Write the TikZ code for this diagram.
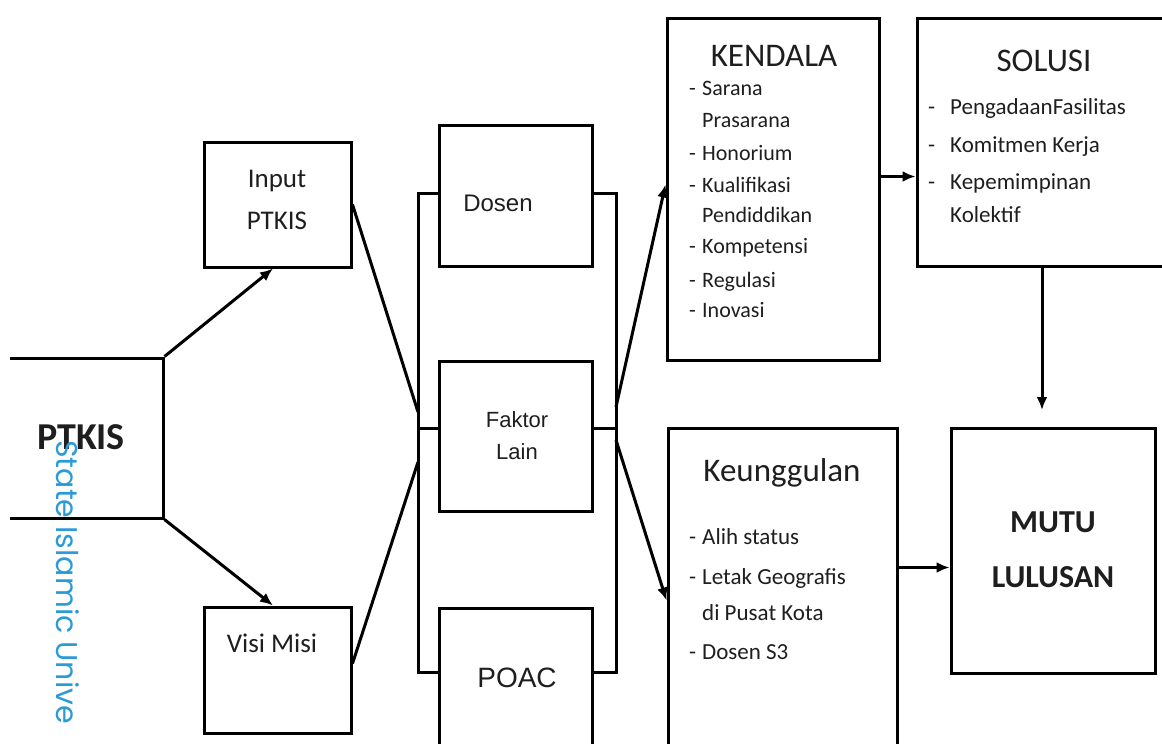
\documentclass[tikz,border=0pt]{standalone}
\usepackage{fontspec}
\setmainfont{Carlito}
\newfontfamily\arialf{Liberation Sans}
\newfontfamily\wmfont{Poppins}
\usetikzlibrary{arrows.meta,calc}
\definecolor{ink}{HTML}{1E1E1E}
\definecolor{wmblue}{HTML}{2A9AD8}
\tikzset{
  box/.style={draw=black, line width=3pt, inner sep=0pt},
  ln/.style={draw=black, line width=3pt},
  arr/.style={draw=black, line width=3pt, -{Latex[length=13pt,width=11pt]}},
  txt/.style={inner sep=0pt, text height=0.68em, text depth=0pt, text=ink},
  fs/.style={font=\fontsize{#1}{#1}\selectfont, yshift={-(0.34*#1-3.4)*1pt}},
}
\begin{document}
\begin{tikzpicture}[x=1pt,y=-1pt]
\useasboundingbox (0,0) rectangle (1162,744);
\clip (10,0) rectangle (1162,744);

% boxes
\node[box, minimum width=203pt, minimum height=160pt] (ptkis) at (61.5,438) {};
\node[box, minimum width=147pt, minimum height=125pt] (input) at (277.5,204.5) {};
\node[box, minimum width=147pt, minimum height=126pt] (visi) at (277.5,670) {};
\node[box, minimum width=153pt, minimum height=141pt] (dosen) at (515.5,195.5) {};
\node[box, minimum width=153pt, minimum height=150pt] (faktor) at (515.5,436) {};
\node[box, minimum width=153pt, minimum height=192pt] (poac) at (515.5,704) {};
\node[box, minimum width=212pt, minimum height=342pt] (kendala) at (773,189) {};
\node[box, minimum width=273pt, minimum height=248pt] (solusi) at (1053.5,142) {};
\node[box, minimum width=229pt, minimum height=372pt] (keung) at (782.5,614) {};
\node[box, minimum width=204pt, minimum height=245pt] (mutu) at (1053,550.5) {};

% texts
\node[txt, fs=38, font=\bfseries\fontsize{38}{38}\selectfont] (ptkisT) at (81,437) {PTKIS};
\node[txt, fs=27] (inputT1) at (277,178) {Input};
\node[txt, fs=27] (inputT2) at (277,220) {PTKIS};
\node[txt, fs=27] (visiT) at (272,643) {Visi Misi};
\node[txt, fs=24, font=\arialf\fontsize{24}{24}\selectfont] (dosenT) at (498,203) {Dosen};
\node[txt, fs=22, font=\arialf\fontsize{22}{22}\selectfont] (faktorT1) at (517,420) {Faktor};
\node[txt, fs=22, font=\arialf\fontsize{22}{22}\selectfont] (faktorT2) at (517,452) {Lain};
\node[txt, fs=28, font=\arialf\fontsize{28}{28}\selectfont] (poacT) at (517,678) {POAC};

\node[txt, fs=33] (kendalaT) at (774,55) {KENDALA};
\node[txt, fs=22, anchor=west] (k1) at (689,88) {\makebox[13pt][l]{-}Sarana};
\node[txt, fs=22, anchor=west] (k2) at (702,120) {Prasarana};
\node[txt, fs=22, anchor=west] (k3) at (689,153) {\makebox[13pt][l]{-}Honorium};
\node[txt, fs=22, anchor=west] (k4) at (689,185) {\makebox[13pt][l]{-}Kualifikasi};
\node[txt, fs=22, anchor=west] (k5) at (702,215) {Pendiddikan};
\node[txt, fs=22, anchor=west] (k6) at (689,246) {\makebox[13pt][l]{-}Kompetensi};
\node[txt, fs=22, anchor=west] (k7) at (689,280) {\makebox[13pt][l]{-}Regulasi};
\node[txt, fs=22, anchor=west] (k8) at (689,310) {\makebox[13pt][l]{-}Inovasi};

\node[txt, fs=33] (solusiT) at (1044,60) {SOLUSI};
\node[txt, fs=23, anchor=west] (s1) at (928,107) {\makebox[22pt][l]{-}PengadaanFasilitas};
\node[txt, fs=23, anchor=west] (s2) at (928,145) {\makebox[22pt][l]{-}Komitmen Kerja};
\node[txt, fs=23, anchor=west] (s3) at (928,182) {\makebox[22pt][l]{-}Kepemimpinan};
\node[txt, fs=23, anchor=west] (s4) at (950,215) {Kolektif};

\node[txt, fs=33] (keungT) at (782,470) {Keunggulan};
\node[txt, fs=23, anchor=west] (u1) at (689,537) {\makebox[13pt][l]{-}Alih status};
\node[txt, fs=23, anchor=west] (u2) at (689,577) {\makebox[13pt][l]{-}Letak Geografis};
\node[txt, fs=23, anchor=west] (u3) at (702,613) {di Pusat Kota};
\node[txt, fs=23, anchor=west] (u4) at (689,652) {\makebox[13pt][l]{-}Dosen S3};

\node[txt, fs=32, font=\bfseries\fontsize{32}{32}\selectfont] (mutuT1) at (1053,522) {MUTU};
\node[txt, fs=32, font=\bfseries\fontsize{32}{32}\selectfont] (mutuT2) at (1053,577) {LULUSAN};

% bracket coordinates and free ends
\coordinate (lt) at (418,193);
\coordinate (lm) at (418,428);
\coordinate (lb) at (418,672);
\coordinate (rt) at (616,193);
\coordinate (rm) at (616,428);
\coordinate (rb) at (616,672);
\coordinate (lin) at (418,412);
\coordinate (lvis) at (418,462);
\coordinate (rout1) at (616,407);
\coordinate (rout2) at (616,440);
\coordinate (mutuIn) at (1042,410);

% brackets
\draw[ln] (dosen.west |- lt) -- (lt) -- (lb) -- (poac.west |- lb);
\draw[ln] (lm) -- (faktor.west |- lm);
\draw[ln] (dosen.east |- rt) -- (rt) -- (rb) -- (poac.east |- rb);
\draw[ln] (rm) -- (faktor.east |- rm);

% connectors
\draw[arr] (ptkis.north east) -- ($(input.south west)!0.47!(input.south east)$);
\draw[arr] (ptkis.south east) -- ($(visi.north west)!0.47!(visi.north east)$);
\draw[ln] (input.east) -- (lin);
\draw[ln] ($(visi.north east)+(0,58)$) -- (lvis);
\draw[arr] (rout1) -- ($(kendala.north west)+(0,168)$);
\draw[arr] (rout2) -- ($(keung.north west)+(0,174)$);
\draw[arr] ($(kendala.north east)+(0,160)$) -- ($(solusi.north west)+(0,160)$);
\draw[arr] (solusi.south -| mutuIn) -- (mutuIn);
\draw[arr] ($(keung.north east)+(0,141)$) -- ($(mutu.north west)+(0,141)$);

% watermark
\node[rotate=-90, anchor=west, inner sep=0pt, text=wmblue, font=\wmfont\fontsize{30}{30}\selectfont] (wm) at (68,440) {State Islamic Unive};
\end{tikzpicture}
\end{document}
